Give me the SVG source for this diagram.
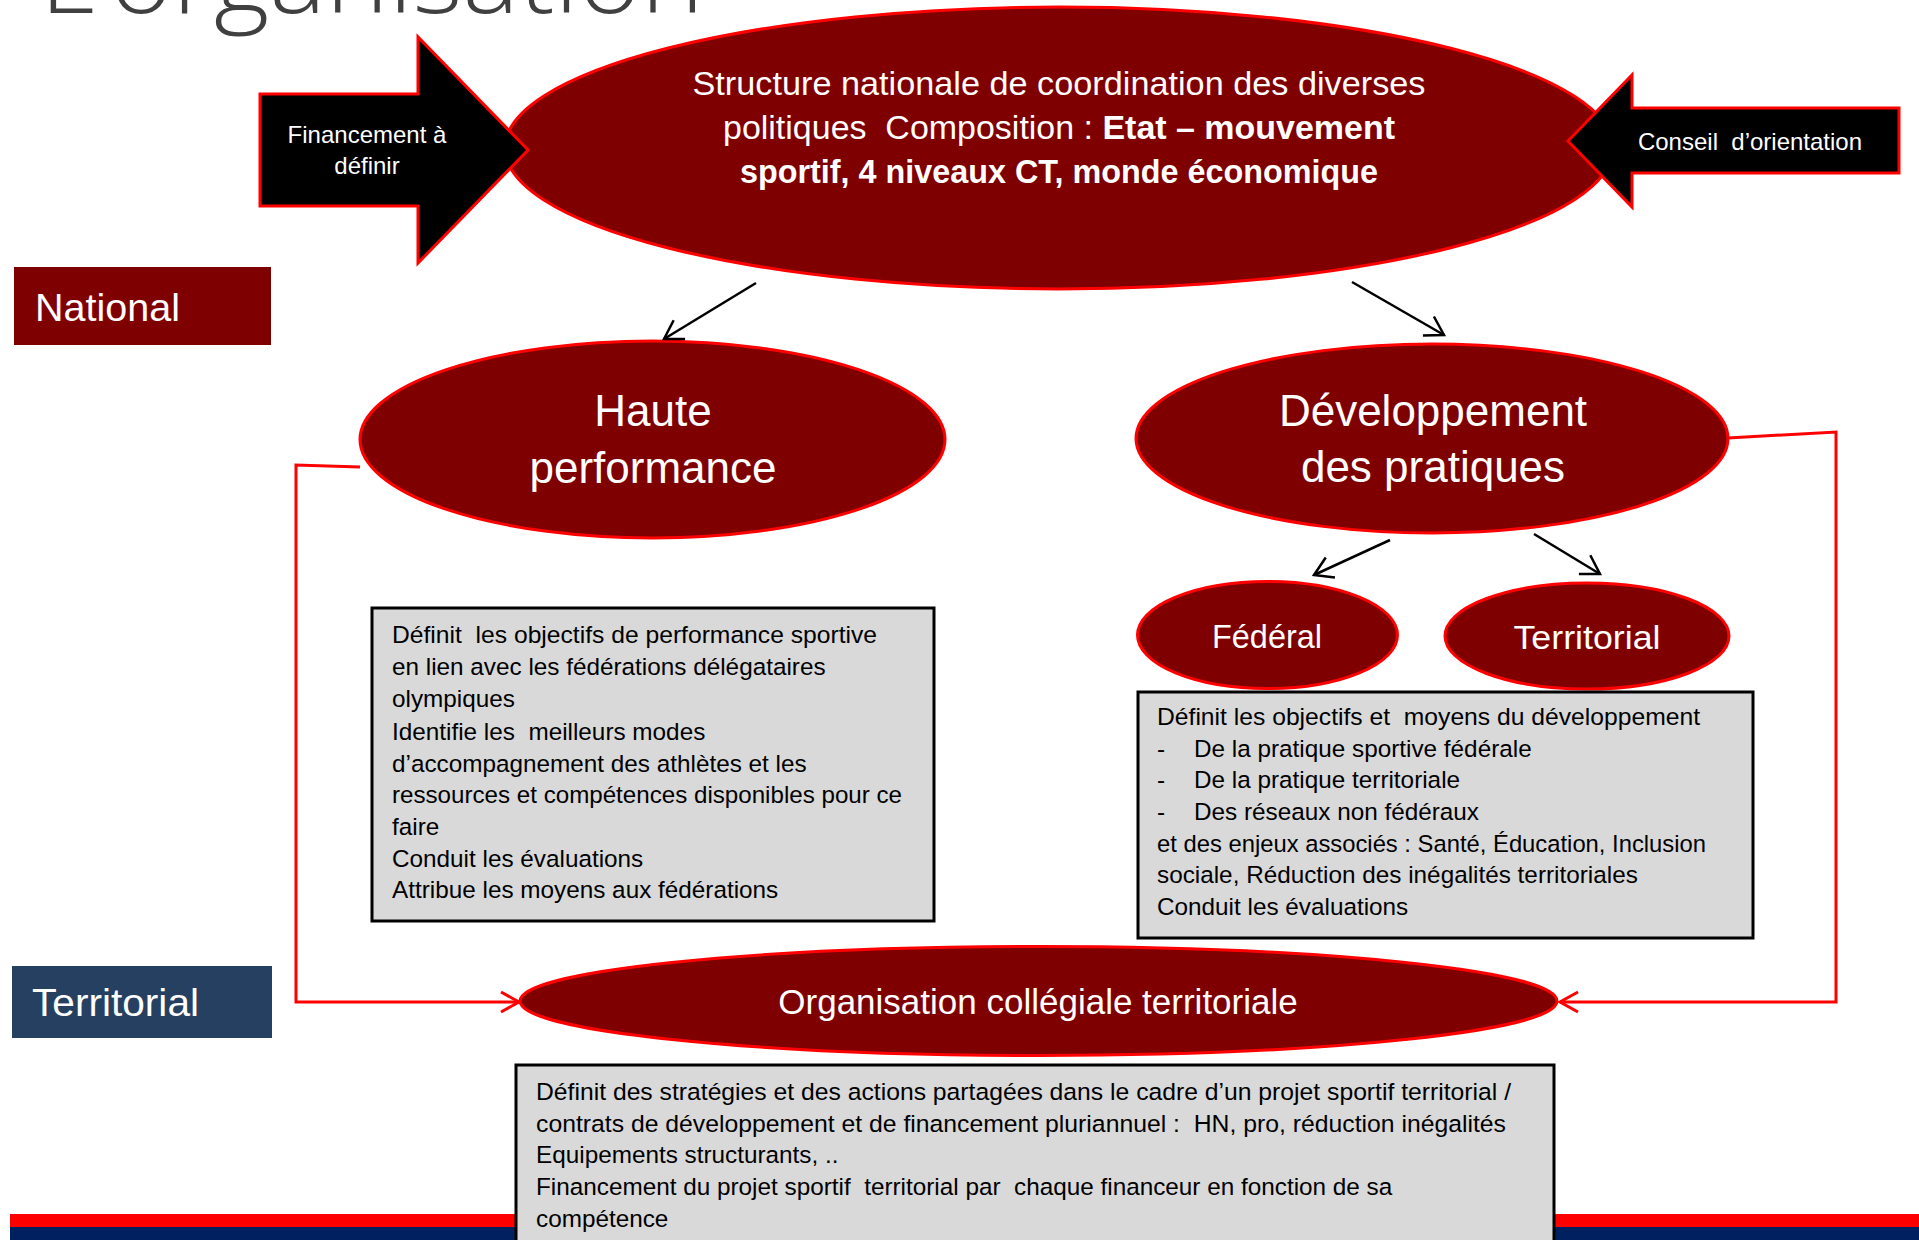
<svg xmlns="http://www.w3.org/2000/svg" width="1919" height="1240" viewBox="0 0 1919 1240">
<style>
.t{font-family:"Liberation Sans",Arial,sans-serif;}
.w{fill:#fff;}
.k{fill:#000;}
.oval{fill:#7f0000;stroke:#ff0000;stroke-width:3;}
.box{fill:#d9d9d9;stroke:#000;stroke-width:3;}
.bt{font-family:"Liberation Sans",Arial,sans-serif;font-size:24.3px;fill:#000;}
.blk{fill:none;stroke:#000;stroke-width:2.5;}
.red{fill:none;stroke:#ff0000;stroke-width:3;}
</style>
<defs>
<marker id="ab" markerUnits="userSpaceOnUse" markerWidth="40" markerHeight="40" viewBox="-25 -20 30 40" refX="0" refY="0" orient="auto" overflow="visible">
<path d="M-18,-11 L0,0 L-18,11" fill="none" stroke="#000" stroke-width="2.5"/>
</marker>
<marker id="ar" markerUnits="userSpaceOnUse" markerWidth="40" markerHeight="40" viewBox="-25 -20 30 40" refX="0" refY="0" orient="auto" overflow="visible">
<path d="M-18,-10 L0,0 L-18,10" fill="none" stroke="#ff0000" stroke-width="3"/>
</marker>
</defs>
<rect width="1919" height="1240" fill="#fff"/>
<text x="40" y="13" font-family="'Open Sans','Liberation Sans',sans-serif" font-weight="300" font-size="100" fill="#404040" textLength="664" lengthAdjust="spacingAndGlyphs">L’organisation</text>
<g id="bars">
<rect x="10" y="1214" width="1909" height="13" fill="#ff0000"/>
<rect x="10" y="1227" width="1909" height="13" fill="#002060"/>
</g>
<g id="label-national">
<rect x="14" y="267" width="257" height="78" fill="#7f0000"/>
<text class="t w" x="35" y="321" font-size="39.5">National</text>
</g>
<g id="label-territorial">
<rect x="12" y="966" width="260" height="72" fill="#264061"/>
<text class="t w" x="32" y="1016" font-size="39.5" textLength="167" lengthAdjust="spacingAndGlyphs">Territorial</text>
</g>
<g id="structure-nationale">
<ellipse class="oval" cx="1059" cy="148" rx="554" ry="141"/>
<text class="t w" x="1059" y="95" font-size="34" text-anchor="middle" textLength="733" lengthAdjust="spacingAndGlyphs">Structure nationale de coordination des diverses</text>
<text class="t w" x="1059" y="139" font-size="34" text-anchor="middle" xml:space="preserve" textLength="672" lengthAdjust="spacingAndGlyphs">politiques  Composition : <tspan font-weight="bold">Etat – mouvement</tspan></text>
<text class="t w" x="1059" y="183" font-size="34" font-weight="bold" text-anchor="middle" textLength="638" lengthAdjust="spacingAndGlyphs">sportif, 4 niveaux CT, monde économique</text>
</g>
<g id="financement">
<polygon points="260,94 418,94 418,37 528,150 418,263 418,206 260,206" fill="#000" stroke="#ff0000" stroke-width="3"/>
<text class="t w" x="367" y="143" font-size="24" text-anchor="middle">Financement à</text>
<text class="t w" x="367" y="174" font-size="24" text-anchor="middle">définir</text>
</g>
<g id="conseil">
<polygon points="1899,108 1632,108 1632,75 1568,141 1632,207 1632,173 1899,173" fill="#000" stroke="#ff0000" stroke-width="3"/>
<text class="t w" x="1750" y="150" font-size="24" text-anchor="middle" xml:space="preserve">Conseil  d’orientation</text>
</g>
<g id="haute-performance">
<ellipse class="oval" cx="652.5" cy="439.5" rx="292.5" ry="98.5"/>
<text class="t w" x="653" y="426" font-size="44" text-anchor="middle">Haute</text>
<text class="t w" x="653" y="483" font-size="44" text-anchor="middle">performance</text>
</g>
<g id="developpement">
<ellipse class="oval" cx="1432" cy="438.5" rx="296" ry="94.5"/>
<text class="t w" x="1433" y="426" font-size="44" text-anchor="middle">Développement</text>
<text class="t w" x="1433" y="482" font-size="44" text-anchor="middle">des pratiques</text>
</g>
<g id="federal">
<ellipse class="oval" cx="1267.5" cy="635" rx="130" ry="53.5"/>
<text class="t w" x="1267" y="648" font-size="34" text-anchor="middle" textLength="110" lengthAdjust="spacingAndGlyphs">Fédéral</text>
</g>
<g id="territorial">
<ellipse class="oval" cx="1587" cy="636" rx="142" ry="53"/>
<text class="t w" x="1587" y="649" font-size="34" text-anchor="middle" textLength="147" lengthAdjust="spacingAndGlyphs">Territorial</text>
</g>
<g id="box-haute">
<rect class="box" x="372" y="608" width="562" height="313"/>
<text class="bt" x="392" y="643" xml:space="preserve" textLength="485" lengthAdjust="spacingAndGlyphs">Définit  les objectifs de performance sportive</text>
<text class="bt" x="392" y="675">en lien avec les fédérations délégataires</text>
<text class="bt" x="392" y="707">olympiques</text>
<text class="bt" x="392" y="740" xml:space="preserve">Identifie les  meilleurs modes</text>
<text class="bt" x="392" y="772">d’accompagnement des athlètes et les</text>
<text class="bt" x="392" y="803" textLength="510" lengthAdjust="spacingAndGlyphs">ressources et compétences disponibles pour ce</text>
<text class="bt" x="392" y="835">faire</text>
<text class="bt" x="392" y="867">Conduit les évaluations</text>
<text class="bt" x="392" y="898">Attribue les moyens aux fédérations</text>
</g>
<g id="box-developpement">
<rect class="box" x="1138" y="692" width="615" height="246"/>
<text class="bt" x="1157" y="725" xml:space="preserve" textLength="543" lengthAdjust="spacingAndGlyphs">Définit les objectifs et  moyens du développement</text>
<text class="bt" x="1157" y="757">-</text>
<text class="bt" x="1194" y="757">De la pratique sportive fédérale</text>
<text class="bt" x="1157" y="788">-</text>
<text class="bt" x="1194" y="788">De la pratique territoriale</text>
<text class="bt" x="1157" y="820">-</text>
<text class="bt" x="1194" y="820">Des réseaux non fédéraux</text>
<text class="bt" x="1157" y="852" textLength="549" lengthAdjust="spacingAndGlyphs">et des enjeux associés : Santé, Éducation, Inclusion</text>
<text class="bt" x="1157" y="883">sociale, Réduction des inégalités territoriales</text>
<text class="bt" x="1157" y="915">Conduit les évaluations</text>
</g>
<g id="organisation-collegiale">
<ellipse class="oval" cx="1038.5" cy="1001" rx="518.5" ry="54.5"/>
<text class="t w" x="1038" y="1014" font-size="35" text-anchor="middle">Organisation collégiale territoriale</text>
</g>
<g id="box-territorial">
<rect class="box" x="516" y="1065" width="1038" height="190"/>
<text class="bt" x="536" y="1100" textLength="975" lengthAdjust="spacingAndGlyphs">Définit des stratégies et des actions partagées dans le cadre d’un projet sportif territorial /</text>
<text class="bt" x="536" y="1132" xml:space="preserve" textLength="970" lengthAdjust="spacingAndGlyphs">contrats de développement et de financement pluriannuel :  HN, pro, réduction inégalités</text>
<text class="bt" x="536" y="1163">Equipements structurants, ..</text>
<text class="bt" x="536" y="1195" xml:space="preserve">Financement du projet sportif  territorial par  chaque financeur en fonction de sa</text>
<text class="bt" x="536" y="1227">compétence</text>
</g>
<g id="connectors">
<line class="blk" x1="756" y1="283" x2="664" y2="339" marker-end="url(#ab)"/>
<line class="blk" x1="1352" y1="282" x2="1444" y2="335" marker-end="url(#ab)"/>
<line class="blk" x1="1390" y1="540" x2="1314" y2="575" marker-end="url(#ab)"/>
<line class="blk" x1="1534" y1="534" x2="1600" y2="574" marker-end="url(#ab)"/>
<polyline class="red" points="360,467 296,465 296,1002 519,1002" marker-end="url(#ar)"/>
<polyline class="red" points="1728,438 1836,432 1836,1002 1560,1002" marker-end="url(#ar)"/>
</g>
</svg>
